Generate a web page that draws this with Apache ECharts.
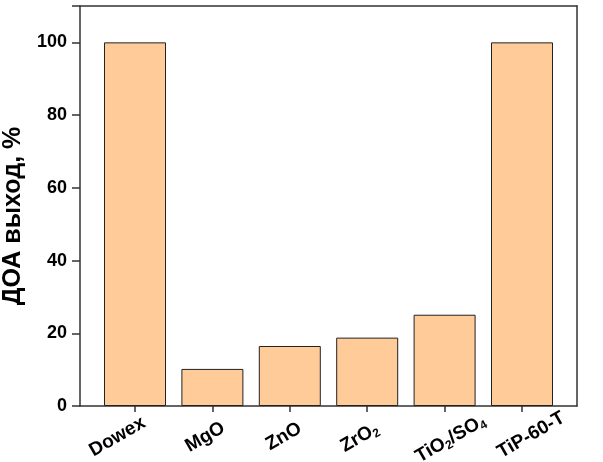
<!DOCTYPE html>
<html><head><meta charset="utf-8">
<script src="https://cdn.jsdelivr.net/npm/echarts@6/dist/echarts.min.js"></script>
<style>html,body{margin:0;padding:0;background:#fff}#c{width:603px;height:462px}</style>
</head><body><div id="c"></div>
<script>
const categories = ['Dowex', 'MgO', 'ZnO', 'ZrO2', 'TiO2/SO4', 'TiP-60-T'];
const labelRich = ['Dowex', 'MgO', 'ZnO', 'ZrO{s|2}', 'TiO{s|2}/SO{s|4}', 'TiP-60-T'];
const yields = [100, 10.2, 16.5, 18.8, 25.1, 100];
const yTicks = [0, 20, 40, 60, 80, 100];
// label placement: screen px nudges of each tick label (layout only)
const labelOffsets = [[-0.5, -3.5], [1.5, 1.5], [1, 2], [0.5, 2.5], [30, -5.5], [32, -8.5]];
const labelBaseShift = 40;

const ang = 30 * Math.PI / 180;
function padFor(off) {
  const dx = off[0] - labelBaseShift, dy = off[1];
  const a = dx * Math.cos(ang) - dy * Math.sin(ang);
  const b = dx * Math.sin(ang) + dy * Math.cos(ang);
  return [b > 0 ? 2 * b : 0, a < 0 ? -a : 0, b < 0 ? -2 * b : 0, 0];
}

const chart = echarts.init(document.getElementById('c'));
const font = 'Liberation Sans, Arial, sans-serif';
const frameLine = {show: true, onZero: false, lineStyle: {color: '#333', width: 1.5}};
const g = {top: 6, bottom: 56, show: false, containLabel: false, outerBoundsMode: 'none'};
chart.setOption({
  animation: false,
  grid: [
    Object.assign({left: 80, width: 497}, g),
    Object.assign({left: 96.3, width: 464.4}, g),
    Object.assign({left: 96.3 + 9.5 + labelBaseShift, width: 464.4}, g)
  ],
  xAxis: [
    {gridIndex: 0, type: 'value', min: 0, max: 1, position: 'bottom',
     axisLine: frameLine, axisTick: {show: false}, axisLabel: {show: false}, splitLine: {show: false}},
    {gridIndex: 0, type: 'value', min: 0, max: 1, position: 'top',
     axisLine: frameLine, axisTick: {show: false}, axisLabel: {show: false}, splitLine: {show: false}},
    {gridIndex: 1, type: 'category', data: categories, position: 'bottom',
     axisLine: {show: false},
     axisTick: {show: true, alignWithLabel: true, length: 6, lineStyle: {color: '#333', width: 1.5}},
     axisLabel: {show: false}},
    {gridIndex: 2, type: 'category', position: 'bottom',
     data: categories.map((c, i) => ({value: c, textStyle: {padding: padFor(labelOffsets[i])}})),
     axisLine: {show: false}, axisTick: {show: false},
     axisLabel: {
       rotate: 30, margin: 19, interval: 0, color: '#000', fontFamily: font, fontWeight: 'bold', fontSize: 19,
       formatter: (v, i) => labelRich[i],
       rich: {s: {fontSize: 12, fontWeight: 'bold', fontFamily: font, color: '#000', padding: [10, 0, 0, 0]}}
     }}
  ],
  yAxis: [
    {gridIndex: 0, type: 'value', min: 0, max: 110, interval: 20, position: 'left',
     name: 'ДОА выход, %', nameLocation: 'middle', nameGap: 52,
     nameTextStyle: {fontFamily: font, fontWeight: 'bold', fontSize: 25, color: '#000', padding: [0, 20, 0, 0]},
     axisLine: frameLine,
     axisTick: {show: true, length: 8, lineStyle: {color: '#333', width: 1.5}},
     axisLabel: {margin: 13, color: '#000', fontFamily: font, fontWeight: 'bold', fontSize: 18,
       formatter: v => yTicks.includes(v) ? String(v) : ''},
     splitLine: {show: false}},
    {gridIndex: 0, type: 'value', min: 0, max: 110, position: 'right',
     axisLine: frameLine, axisTick: {show: false}, axisLabel: {show: false}, splitLine: {show: false}},
    {gridIndex: 1, type: 'value', min: 0, max: 110, show: false},
    {gridIndex: 2, type: 'value', min: 0, max: 110, show: false}
  ],
  series: [{
    type: 'bar', xAxisIndex: 2, yAxisIndex: 2, data: yields, barWidth: 62,
    itemStyle: {color: '#FFCC99', borderColor: '#222', borderWidth: 1}
  }]
});
</script></body></html>
